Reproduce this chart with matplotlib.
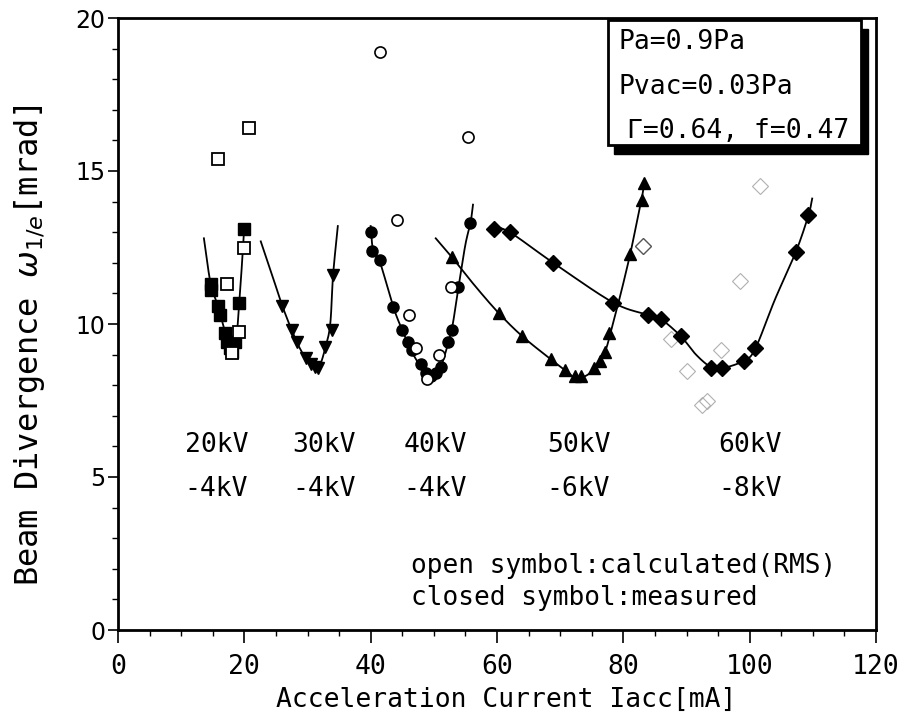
import numpy as np
import matplotlib
matplotlib.use("Agg")
import matplotlib.pyplot as plt
from matplotlib.patches import Rectangle

# ---------------- data ----------------
# 20kV / -4kV (squares)
x20_meas = [14.7, 14.8, 15.8, 16.1, 16.9, 17.3, 17.7, 18.0, 18.5, 19.2, 19.9]
y20_meas = [11.3, 11.1, 10.6, 10.3, 9.7, 9.4, 9.2, 9.1, 9.4, 10.7, 13.1]
x20_calc = [15.9, 20.7, 17.2, 19.9, 19.1, 18.1]
y20_calc = [15.4, 16.4, 11.3, 12.5, 9.75, 9.05]
# fitted guide curve
x20_fit = [13.6, 14.2, 14.8, 15.8, 16.6, 17.3, 18.0, 18.6, 19.2, 19.7, 20.0]
y20_fit = [12.8, 11.9, 11.2, 10.6, 10.0, 9.5, 9.0, 9.2, 10.7, 12.2, 13.2]

# 30kV / -4kV (down triangles)
x30_meas = [26.0, 27.6, 28.4, 29.8, 30.6, 31.2, 31.7, 32.8, 33.8, 34.05]
y30_meas = [10.6, 9.8, 9.4, 8.9, 8.7, 8.6, 8.55, 9.25, 9.8, 11.6]
x30_fit = [22.6, 24.4, 26.0, 27.6, 28.8, 30.0, 31.0, 31.7, 32.8, 33.6, 34.05, 34.8]
y30_fit = [12.7, 11.6, 10.6, 9.75, 9.2, 8.8, 8.55, 8.5, 9.2, 10.0, 11.6, 13.2]

# 40kV / -4kV (circles)
x40_meas = [40.1, 40.2, 41.5, 43.6, 45.0, 45.9, 46.5, 47.9, 48.7, 49.5, 50.3, 51.1, 52.2, 52.8, 53.9, 55.8]
y40_meas = [13.0, 12.4, 12.1, 10.55, 9.8, 9.4, 9.15, 8.7, 8.4, 8.3, 8.4, 8.6, 9.4, 9.8, 11.2, 13.3]
x40_calc = [41.5, 55.4, 44.2, 52.7, 46.1, 47.1, 50.8, 48.9]
y40_calc = [18.9, 16.1, 13.4, 11.2, 10.3, 9.2, 9.0, 8.2]
x40_fit = [40.0, 40.4, 41.5, 43.6, 45.0, 46.5, 47.9, 48.8, 49.6, 50.5, 51.3, 52.3, 53.0, 53.9, 55.0, 55.8, 56.2]
y40_fit = [13.2, 12.4, 12.0, 10.55, 9.8, 9.1, 8.6, 8.3, 8.2, 8.35, 8.7, 9.4, 10.0, 11.2, 12.6, 13.3, 13.9]

# 50kV / -6kV (up triangles)
x50_meas = [52.8, 60.3, 64.0, 68.5, 70.7, 72.4, 73.3, 75.4, 76.3, 77.1, 77.8, 81.1, 83.0, 83.3]
y50_meas = [12.2, 10.35, 9.6, 8.85, 8.5, 8.3, 8.3, 8.55, 8.8, 9.1, 9.7, 12.3, 14.05, 14.6]
x50_fit = [50.3, 52.8, 56.5, 60.3, 64.0, 68.5, 70.7, 72.4, 74.0, 75.4, 77.1, 78.2, 79.6, 81.1, 82.2, 83.0, 83.3]
y50_fit = [12.8, 12.2, 11.25, 10.35, 9.6, 8.85, 8.5, 8.25, 8.3, 8.55, 9.1, 9.9, 11.0, 12.3, 13.4, 14.2, 14.6]

# 60kV / -8kV (diamonds)
x60_meas = [59.6, 62.0, 68.9, 78.4, 83.9, 86.0, 89.1, 93.8, 95.6, 99.1, 100.9, 107.3, 109.3]
y60_meas = [13.1, 13.0, 12.0, 10.7, 10.3, 10.15, 9.6, 8.55, 8.55, 8.8, 9.2, 12.35, 13.55]
x60_calc = [83.1, 101.6, 98.4, 95.4, 87.5, 90.0, 93.2, 92.4]
y60_calc = [12.55, 14.5, 11.4, 9.15, 9.5, 8.45, 7.5, 7.35]
x60_fit = [59.0, 62.0, 68.9, 78.4, 83.9, 86.0, 89.1, 91.5, 93.8, 95.6, 99.1, 100.9, 104.0, 107.3, 109.3, 109.9]
y60_fit = [13.2, 13.0, 12.0, 10.7, 10.3, 10.15, 9.6, 9.0, 8.6, 8.55, 8.8, 9.2, 10.8, 12.35, 13.55, 14.1]

labels_top = ["20kV", "30kV", "40kV", "50kV", "60kV"]
labels_bot = ["-4kV", "-4kV", "-4kV", "-6kV", "-8kV"]
label_x = [15.6, 32.6, 50.2, 72.9, 100.0]

box_lines = ["Pa=0.9Pa", "Pvac=0.03Pa", "Γ=0.64, f=0.47"]

# ---------------- fonts ----------------
mono = "DejaVu Sans Mono"
plt.rcParams["font.family"] = [mono, "DejaVu Sans"]
plt.rcParams["mathtext.fontset"] = "dejavusans"

fig = plt.figure(figsize=(9.05, 7.23), dpi=100)
ax = fig.add_axes([118 / 905, 1 - 630 / 723, (876 - 118) / 905, (630 - 18) / 723])


def catmull_rom(xs, ys, n=20):
    P = np.column_stack([xs, ys]).astype(float)
    P = np.vstack([2 * P[0] - P[1], P, 2 * P[-1] - P[-2]])
    out = []
    t = np.linspace(0, 1, n, endpoint=False)[:, None]
    for i in range(1, len(P) - 2):
        p0, p1, p2, p3 = P[i - 1], P[i], P[i + 1], P[i + 2]
        seg = 0.5 * ((2 * p1) + (-p0 + p2) * t + (2 * p0 - 5 * p1 + 4 * p2 - p3) * t ** 2
                     + (-p0 + 3 * p1 - 3 * p2 + p3) * t ** 3)
        out.append(seg)
    out.append(P[-2][None, :])
    out = np.vstack(out)
    return out[:, 0], out[:, 1]


for xs, ys in [(x20_fit, y20_fit), (x30_fit, y30_fit), (x40_fit, y40_fit),
               (x50_fit, y50_fit), (x60_fit, y60_fit)]:
    xx, yy = catmull_rom(xs, ys)
    ax.plot(xx, yy, color="black", lw=1.3, zorder=2)

ms = 9
ax.plot(x20_meas, y20_meas, "s", color="black", ms=ms, ls="none", zorder=3)
ax.plot(x20_calc, y20_calc, "s", mfc="white", mec="black", mew=1.3, ms=8, ls="none", zorder=4)
ax.plot(x30_meas, y30_meas, "v", color="black", ms=ms, ls="none", zorder=3)
ax.plot(x40_meas, y40_meas, "o", color="black", ms=8, ls="none", zorder=3)
ax.plot(x40_calc, y40_calc, "o", mfc="white", mec="black", mew=1.2, ms=8, ls="none", zorder=4)
ax.plot(x50_meas, y50_meas, "^", color="black", ms=ms, ls="none", zorder=3)
ax.plot(x60_meas, y60_meas, "D", color="black", ms=8, ls="none", zorder=3)
ax.plot(x60_calc[:1], y60_calc[:1], "D", mfc="white", mec="#555555", mew=1.0, ms=8,
        ls="none", zorder=4)
ax.plot(x60_calc[1:], y60_calc[1:], "D", mfc="none", mec="#b0b0b0", mew=0.8, ms=8,
        ls="none", zorder=1)

ax.set_xlim(0, 120)
ax.set_ylim(0, 20)
ax.set_xticks(np.arange(0, 121, 20))
ax.set_xticks(np.arange(0, 121, 5), minor=True)
ax.set_yticks(np.arange(0, 21, 5))
ax.set_yticks(np.arange(0, 21, 1), minor=True)
ax.tick_params(which="major", direction="out", length=9, width=1.2, labelsize=19)
ax.tick_params(which="minor", direction="out", length=4, width=1.0)
ax.tick_params(axis="x", pad=8)
ax.tick_params(axis="y", which="major", length=7, pad=2)
for lab in ax.get_yticklabels():
    lab.set_fontfamily("DejaVu Sans")
    lab.set_fontsize(17)
for s in ax.spines.values():
    s.set_linewidth(2.0)

ax.set_xlabel("Acceleration Current Iacc[mA]", fontsize=19)
ax.xaxis.set_label_coords(0.512, -0.093)
ax.set_ylabel(r"Beam Divergence $\omega_{1/e}$[mrad]", fontsize=23)
ax.yaxis.set_label_coords(-0.095, 0.466)

for xt, t1, t2 in zip(label_x, labels_top, labels_bot):
    ax.text(xt, 6.05, t1, ha="center", va="center", fontsize=19)
    ax.text(xt, 4.6, t2, ha="center", va="center", fontsize=19)

ax.text(46.4, 2.1, "open symbol:calculated(RMS)", ha="left", va="center", fontsize=18.8)
ax.text(46.4, 1.05, "closed symbol:measured", ha="left", va="center", fontsize=18.8)

# parameter box with shadow
ax.add_patch(Rectangle((78.6, 15.55), 40.2, 4.1, facecolor="black", edgecolor="black",
                       zorder=5))
ax.add_patch(Rectangle((77.5, 15.85), 40.2, 4.08, facecolor="white", edgecolor="black",
                       lw=2.0, zorder=6))
for xx, yy, t in zip([79.3, 79.3, 80.6], [19.2, 17.75, 16.3], box_lines):
    ax.text(xx, yy, t, fontsize=19, va="center", ha="left", zorder=7)

fig.savefig("out.png", dpi=100)
